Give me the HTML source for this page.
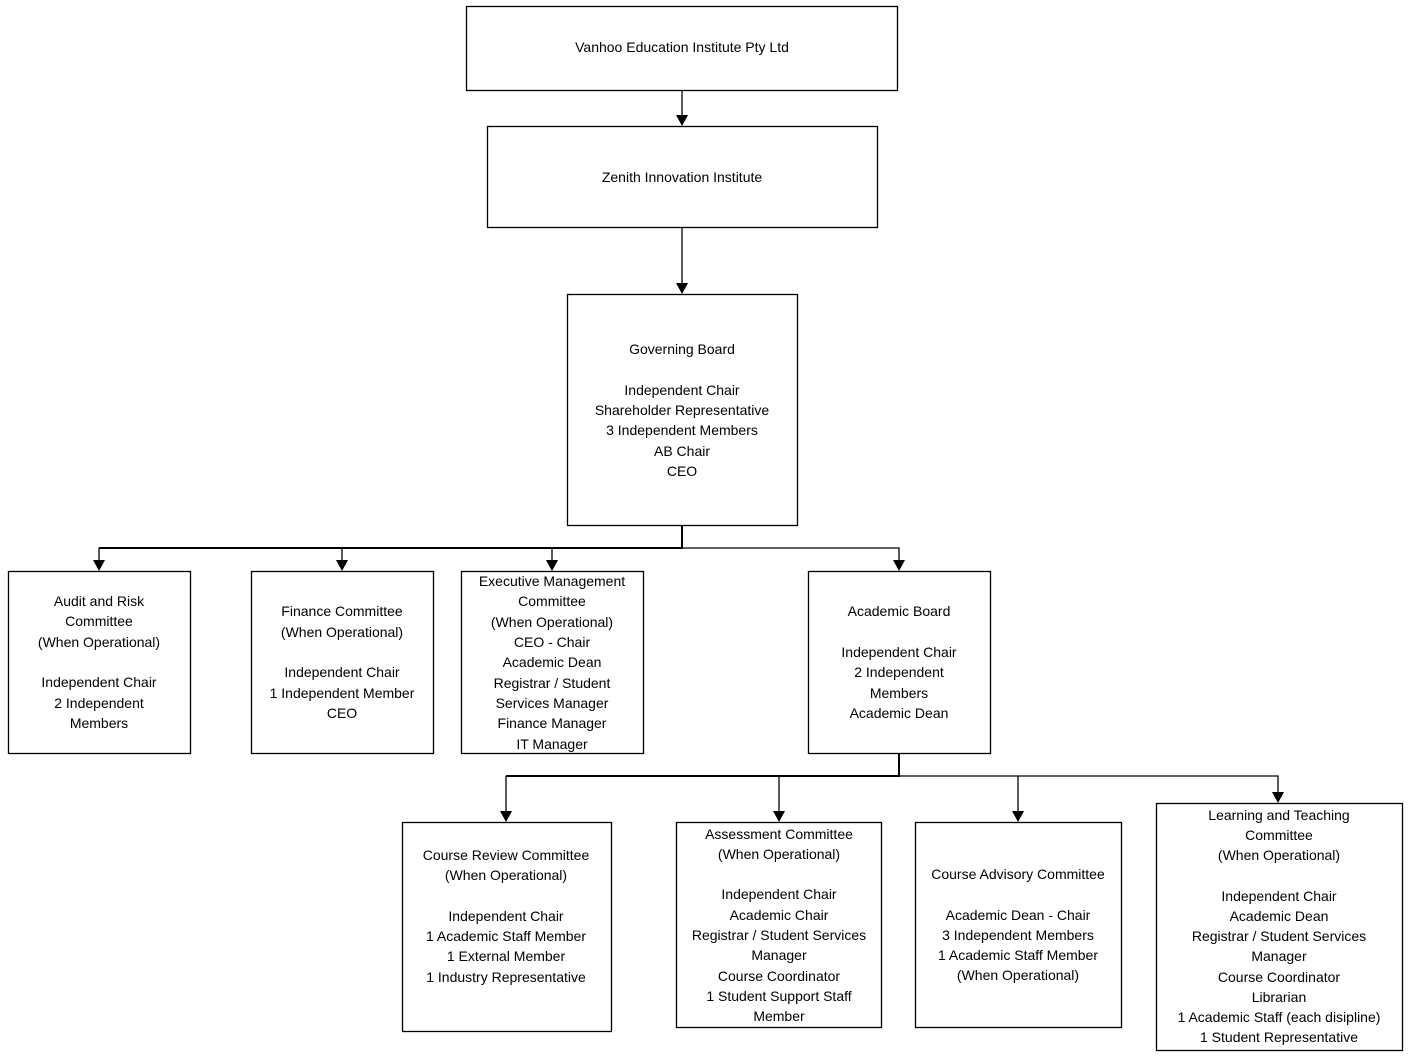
<!DOCTYPE html>
<html><head><meta charset="utf-8"><style>body{margin:0;background:#fff}svg{display:block}</style></head><body>
<svg width="1411" height="1057" viewBox="0 0 1411 1057" xmlns="http://www.w3.org/2000/svg" font-family="Liberation Sans, sans-serif" font-size="14" fill="#000">
<g fill="none" stroke="#000" stroke-width="1.3">
<rect x="466.5" y="6.5" width="431" height="84"/>
<rect x="487.5" y="126.5" width="390" height="101"/>
<rect x="567.5" y="294.5" width="230" height="231"/>
<rect x="8.5" y="571.5" width="182" height="182"/>
<rect x="251.5" y="571.5" width="182" height="182"/>
<rect x="461.5" y="571.5" width="182" height="182"/>
<rect x="808.5" y="571.5" width="182" height="182"/>
<rect x="402.5" y="822.5" width="209" height="209"/>
<rect x="676.5" y="822.5" width="205" height="205"/>
<rect x="915.5" y="822.5" width="206" height="205"/>
<rect x="1156.5" y="803.5" width="246" height="247"/>
<path d="M682,91 V116"/>
<path d="M682,228 V284"/>
<path d="M682,548 H899 V561"/>
<path d="M99,548 V561"/>
<path d="M342,548 V561"/>
<path d="M552,548 V561"/>
<path d="M506,776 V812"/>
<path d="M899,776 H1278 V793"/>
<path d="M779,776 V812"/>
<path d="M1018,776 V812"/>
</g>
<path d="M682,526 V548 H99" fill="none" stroke="#000" stroke-width="2"/>
<path d="M899,754 V776 H506" fill="none" stroke="#000" stroke-width="2"/>
<g fill="#000">
<path d="M676,115 H688 L682,126 z"/>
<path d="M676,283 H688 L682,294 z"/>
<path d="M93,560 H105 L99,571 z"/>
<path d="M336,560 H348 L342,571 z"/>
<path d="M546,560 H558 L552,571 z"/>
<path d="M893,560 H905 L899,571 z"/>
<path d="M500,811 H512 L506,822 z"/>
<path d="M773,811 H785 L779,822 z"/>
<path d="M1012,811 H1024 L1018,822 z"/>
<path d="M1272,792 H1284 L1278,803 z"/>
</g>
<g text-anchor="middle" dominant-baseline="central">
<text x="682" y="47">Vanhoo Education Institute Pty Ltd</text>
<text x="682" y="177">Zenith Innovation Institute</text>
<text x="682" y="349">Governing Board</text>
<text x="682" y="390">Independent Chair</text>
<text x="682" y="410">Shareholder Representative</text>
<text x="682" y="430">3 Independent Members</text>
<text x="682" y="451">AB Chair</text>
<text x="682" y="471">CEO</text>

<text x="99" y="601">Audit and Risk</text>
<text x="99" y="621">Committee</text>
<text x="99" y="642">(When Operational)</text>
<text x="99" y="682">Independent Chair</text>
<text x="99" y="703">2 Independent</text>
<text x="99" y="723">Members</text>

<text x="342" y="611">Finance Committee</text>
<text x="342" y="632">(When Operational)</text>
<text x="342" y="672">Independent Chair</text>
<text x="342" y="693">1 Independent Member</text>
<text x="342" y="713">CEO</text>

<text x="552" y="581">Executive Management</text>
<text x="552" y="601">Committee</text>
<text x="552" y="622">(When Operational)</text>
<text x="552" y="642">CEO - Chair</text>
<text x="552" y="662">Academic Dean</text>
<text x="552" y="683">Registrar / Student</text>
<text x="552" y="703">Services Manager</text>
<text x="552" y="723">Finance Manager</text>
<text x="552" y="744">IT Manager</text>

<text x="899" y="611">Academic Board</text>
<text x="899" y="652">Independent Chair</text>
<text x="899" y="672">2 Independent</text>
<text x="899" y="693">Members</text>
<text x="899" y="713">Academic Dean</text>

<text x="506" y="855">Course Review Committee</text>
<text x="506" y="875">(When Operational)</text>
<text x="506" y="916">Independent Chair</text>
<text x="506" y="936">1 Academic Staff Member</text>
<text x="506" y="956">1 External Member</text>
<text x="506" y="977">1 Industry Representative</text>

<text x="779" y="834">Assessment Committee</text>
<text x="779" y="854">(When Operational)</text>
<text x="779" y="894">Independent Chair</text>
<text x="779" y="915">Academic Chair</text>
<text x="779" y="935">Registrar / Student Services</text>
<text x="779" y="955">Manager</text>
<text x="779" y="976">Course Coordinator</text>
<text x="779" y="996">1 Student Support Staff</text>
<text x="779" y="1016">Member</text>

<text x="1018" y="874">Course Advisory Committee</text>
<text x="1018" y="915">Academic Dean - Chair</text>
<text x="1018" y="935">3 Independent Members</text>
<text x="1018" y="955">1 Academic Staff Member</text>
<text x="1018" y="975">(When Operational)</text>

<text x="1279" y="815">Learning and Teaching</text>
<text x="1279" y="835">Committee</text>
<text x="1279" y="855">(When Operational)</text>
<text x="1279" y="896">Independent Chair</text>
<text x="1279" y="916">Academic Dean</text>
<text x="1279" y="936">Registrar / Student Services</text>
<text x="1279" y="956">Manager</text>
<text x="1279" y="977">Course Coordinator</text>
<text x="1279" y="997">Librarian</text>
<text x="1279" y="1017">1 Academic Staff (each disipline)</text>
<text x="1279" y="1037">1 Student Representative</text>
</g>
</svg>
</body></html>
